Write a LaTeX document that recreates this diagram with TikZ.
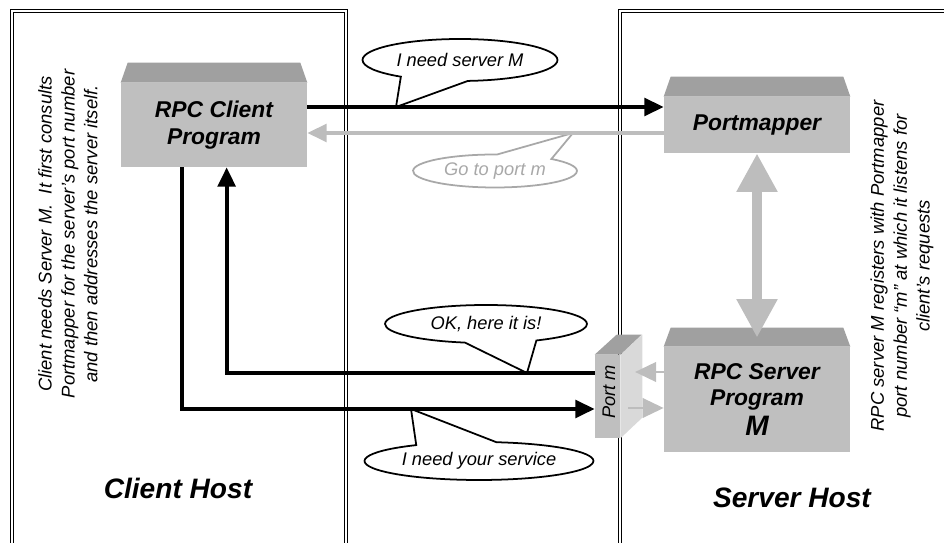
\documentclass[tikz,border=0pt]{standalone}
\usepackage{fontspec}
\setmainfont{Liberation Sans}
\usetikzlibrary{arrows.meta,shapes.callouts}
\definecolor{boxgray}{HTML}{BFBFBF}
\definecolor{roofgray}{HTML}{A0A0A0}
\definecolor{sidegray}{HTML}{D9D9D9}
\definecolor{arrowgray}{HTML}{BDBDBD}
\definecolor{talkgray}{HTML}{A8A8A8}

\begin{document}
\begin{tikzpicture}[x=0.02cm, y=-0.02cm,
  every node/.style={font=\fontsize{10.4}{12.5}\selectfont\itshape},
  host/.style={draw, double, double distance=1.6pt, line width=0.6pt},
  prog/.style={fill=boxgray, minimum width=3.72cm, inner sep=0pt, align=center, font=\fontsize{13}{15}\selectfont\bfseries\itshape},
  roof/.style={fill=roofgray},
  msg/.style={-{Triangle[length=11pt,width=10pt]}, line width=2.3pt},
  reply/.style={msg, arrowgray},
  talk/.style={ellipse callout, draw, fill=white, line width=1pt, inner sep=0pt, callout pointer arc=42},
  note/.style={rotate=90, align=center, font=\fontsize{10.5}{13}\selectfont\itshape},
  hostname/.style={font=\fontsize{16}{19}\selectfont\bfseries\itshape}]
\useasboundingbox (0,0) rectangle (944,543);
\clip (0,0) rectangle (944,543);
% the two hosts
\draw[host] (12,11) rectangle (346,570);
\draw[host] (620,11) rectangle (990,570);
\node[hostname] (chost) at (178,488) {Client Host};
\node[hostname] (shost) at (792,498) {Server Host};

% side notes
\node[note] (clientnote) at (68,234) {Client needs Server M.~ It first consults\\Portmapper for the server's port number\\and then addresses the server itself.};
\node[note] (servernote) at (902,266) {RPC server M registers with Portmapper\\port number “m” at which it listens for\\client's requests};

% speech bubbles
\coordinate (tipA) at (396,107);
\coordinate (tipB) at (573,133);
\coordinate (tipC) at (527,373);
\coordinate (tipD) at (411,409);
\node[talk, minimum width=3.9cm, minimum height=0.84cm, callout absolute pointer=(tipA)] (needM) at (460,60) {I need server M};
\node[talk, draw=talkgray, text=talkgray, minimum width=3.28cm, minimum height=0.66cm, callout absolute pointer=(tipB)] (goport) at (495,171) {Go to port m};
\node[talk, minimum width=4.04cm, minimum height=0.76cm, callout absolute pointer=(tipC)] (okay) at (486,324) {OK, here it is!};
\node[talk, minimum width=4.58cm, minimum height=0.76cm, callout absolute pointer=(tipD)] (service) at (479,461) {I need your service};

% programs
\node[prog, minimum height=1.68cm] (client) at (214,125) {RPC Client\\Program};
\node[prog, minimum height=1.12cm] (pm) at (757,125) {Portmapper};
\node[prog, minimum height=2.1cm] (srv) at (757,399.5) {RPC Server\\Program\\[2pt]\fontsize{16}{17}\selectfont M};
\fill[roof] (client.north west) -- ++(7,-20) -- ([shift={(-7,-20)}]client.north east) -- (client.north east) -- cycle;
\fill[roof] (pm.north west) -- ++(7,-20) -- ([shift={(-7,-20)}]pm.north east) -- (pm.north east) -- cycle;
\fill[roof] (srv.north west) -- ++(7,-19) -- ([shift={(-7,-19)}]srv.north east) -- (srv.north east) -- cycle;

% port m
\node[fill=boxgray, minimum width=0.5cm, minimum height=1.66cm, inner sep=0pt] (port) at (607.5,396.5) {};
\fill[sidegray] (port.north east) -- ++(22,-20) -- ++(0,83) -- (port.south east) -- cycle;
\fill[roofgray] (port.north west) -- ++(22,-20) -- ++(25,0) -- (port.north east) -- cycle;
\node[rotate=90] (portlbl) at (609,392) {Port m};

% messages
\draw[msg] ([yshift=0.36cm]client.east) -- ([yshift=0.36cm]pm.west);
\draw[reply] ([yshift=-0.16cm]pm.west) -- ([yshift=-0.16cm]client.east);
\draw[msg] ([xshift=1.22cm]client.south west) |- ([yshift=-0.25cm]port.west);
\draw[msg] ([yshift=0.47cm]port.west) -| ([xshift=2.12cm]client.south west);
\draw[{Triangle[length=22pt,width=22pt]}-{Triangle[length=22pt,width=22pt]}, arrowgray, line width=5.7pt] (pm.south) -- ([yshift=0.18cm]srv.north);
\coordinate (inA) at (635,372);
\coordinate (outB) at (628,408);
\draw[arrowgray, line width=1.7pt, -{Triangle[length=12pt,width=11pt]}] (srv.west |- inA) -- (inA);
\draw[arrowgray, line width=1.7pt, -{Triangle[length=12pt,width=11pt]}] (outB) -- (srv.west |- outB);
\end{tikzpicture}
\end{document}
